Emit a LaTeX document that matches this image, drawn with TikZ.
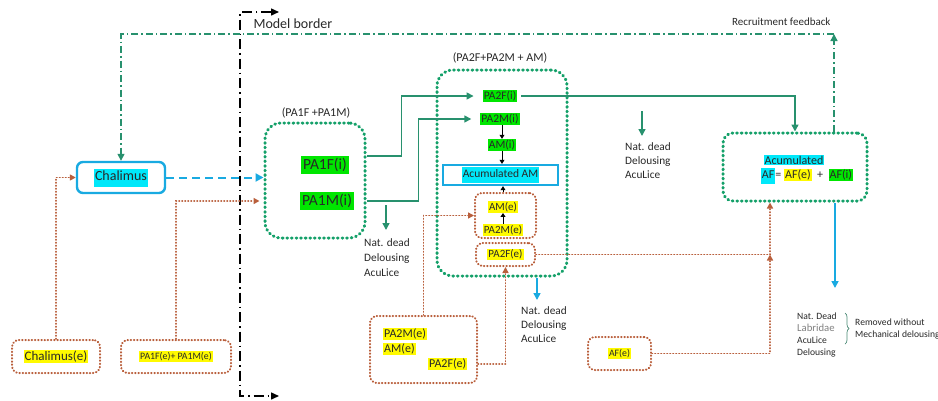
\documentclass[tikz,border=0pt]{standalone}
\usepackage{fontspec}
\setmainfont{Carlito}
\usepackage{xcolor}
\usepackage{tikz}
\usetikzlibrary{arrows.meta, positioning, calc, decorations.pathreplacing}
\definecolor{zonegreen}{RGB}{20,160,105}
\definecolor{flowgreen}{RGB}{40,145,110}
\definecolor{lightblue}{RGB}{25,170,225}
\definecolor{extbrown}{RGB}{185,95,60}
\definecolor{hlgreen}{RGB}{0,230,0}
\definecolor{hlyellow}{RGB}{255,250,0}
\definecolor{hlcyan}{RGB}{0,232,250}
\definecolor{txtdark}{RGB}{40,40,40}
\newcommand{\hlc}[1]{{\setlength{\fboxsep}{1pt}\colorbox{hlcyan}{\strut #1}}}
\newcommand{\hly}[1]{{\setlength{\fboxsep}{1pt}\colorbox{hlyellow}{#1}}}
\newcommand{\hlg}[1]{{\setlength{\fboxsep}{1pt}\colorbox{hlgreen}{#1}}}
\tikzset{
  bigtxt/.style={font=\fontsize{15.5}{18}\selectfont},
  midtxt/.style={font=\fontsize{12}{14}\selectfont},
  smalltxt/.style={font=\fontsize{11.3}{15}\selectfont},
  tinytxt/.style={font=\fontsize{9.8}{12}\selectfont},
  zone/.style={draw=zonegreen, line width=3pt, dash pattern=on 0.8pt off 3.8pt,
    line cap=round, rounded corners=16pt, inner sep=0pt},
  chalbox/.style={draw=lightblue, line width=2.4pt, rounded corners=6pt,
    minimum width=88pt, minimum height=31pt, inner sep=0pt,
    font=\fontsize{14}{16}\selectfont},
  accbox/.style={draw=lightblue, line width=2.4pt, minimum width=115pt,
    minimum height=20pt, inner sep=0pt},
  extbox/.style={draw=extbrown, line width=2pt, dash pattern=on 0.5pt off 2.7pt,
    line cap=round, rounded corners=7pt, inner sep=0pt},
  gtag/.style={fill=hlgreen, inner sep=1pt},
  ytag/.style={fill=hlyellow, inner sep=1pt},
  note/.style={align=left, anchor=west, inner sep=0pt, text=txtdark},
  flow/.style={draw=flowgreen, line width=1.5pt, -{Triangle[width=7pt,length=7pt]}},
  cyanflow/.style={draw=lightblue, line width=1.6pt, -{Triangle[width=7pt,length=7pt]}},
  cyandash/.style={draw=lightblue, line width=2pt, dash pattern=on 8pt off 5pt,
    -{Triangle[width=8pt,length=8pt]}},
  extarrow/.style={draw=extbrown, line width=1.8pt, dash pattern=on 0.5pt off 2.5pt,
    line cap=round, -{Triangle[width=6pt,length=6pt]}},
  smallarrow/.style={line width=0.8pt, -{Triangle[width=5pt,length=4pt]}},
  feedback/.style={draw=flowgreen, line width=1.4pt,
    dash pattern=on 7pt off 3pt on 1.5pt off 3pt, -{Triangle[width=7pt,length=7pt]}},
  border/.style={line width=1.5pt, dash pattern=on 10pt off 4pt on 1.5pt off 4pt,
    {Triangle[width=7pt,length=8pt]}-{Triangle[width=7pt,length=8pt]}}
}
\begin{document}
\begin{tikzpicture}[x=1pt, y=-1pt, font=\fontsize{11.5}{14}\selectfont, text=txtdark]
  \useasboundingbox (0,0) rectangle (938,400);

  % model border
  \coordinate (mbtop) at (240,12);
  \coordinate (mbbot) at (240,396);
  \coordinate (mbtopend) at (279,12);
  \coordinate (mbbotend) at (279,396);
  \draw[border] (mbtopend) -- (mbtop) -- (mbbot) -- (mbbotend);
  \node[anchor=west, font=\fontsize{14}{16}\selectfont] (mbtext) at (250,24) {Model border};

  % zones
  \node[zone, minimum width=100pt, minimum height=115pt] (pa1zone) at (315,180.5) {};
  \node[midtxt] (pa1lbl) at (316,113) {(PA1F +PA1M)};
  \node[zone, minimum width=130pt, minimum height=206pt] (pa2zone) at (502,173) {};
  \node[midtxt] (pa2lbl) at (500,58) {(PA2F+PA2M + AM)};
  \node[zone, minimum width=144pt, minimum height=68pt, rounded corners=10pt] (afzone) at (795,167) {};

  % stages inside the model
  \node[chalbox] (chal) at (121,177.5) {\hlc{Chalimus}};
  \node[gtag, bigtxt, inner sep=2pt] (pa1f) at (325,165) {PA1F(i)};
  \node[gtag, bigtxt, inner sep=2pt] (pa1m) at (327,201) {PA1M(i)};
  \node[gtag] (pa2fi) at (500,96) {PA2F(i)};
  \node[gtag] (pa2mi) at (500,119) {PA2M(i)};
  \node[gtag] (ami) at (502,145) {AM(i)};
  \node[accbox] (accam) at (500.5,175) {\hlc{Acumulated AM}};
  \node[extbox, minimum width=61pt, minimum height=45pt] (ambox) at (505.5,215.5) {};
  \node[ytag, font=\fontsize{11}{13}\selectfont] (ame) at (503,207) {AM(e)};
  \node[ytag, font=\fontsize{11}{13}\selectfont] (pa2me) at (503,230) {PA2M(e)};
  \node[extbox, minimum width=59pt, minimum height=23pt, font=\fontsize{11}{13}\selectfont]
    (pa2fbox) at (505.5,254.5) {\hly{PA2F(e)}};
  \node[midtxt, fill=hlcyan, inner sep=1pt] (afacc) at (794,160) {Acumulated};
  \node[midtxt] (afsum) at (807,176) {\hlc{AF}= \hly{AF(e)} \ + \ \hlg{AF(i)}};

  % external input
  \node[extbox, minimum width=88pt, minimum height=33pt, font=\fontsize{13}{15}\selectfont]
    (chale) at (56,356.5) {\hly{Chalimus(e)}};
  \node[extbox, minimum width=110pt, minimum height=33pt, tinytxt]
    (pa1e) at (176,356.5) {\hly{PA1F(e)+ PA1M(e)}};
  \node[extbox, minimum width=107pt, minimum height=67pt] (pa2e) at (423.5,349.5) {};
  \node[ytag, midtxt, anchor=west] (pa2e1) at (383,334) {PA2M(e)};
  \node[ytag, midtxt, anchor=west] (pa2e2) at (383,349) {AM(e)};
  \node[ytag, midtxt, anchor=west] (pa2e3) at (428,364) {PA2F(e)};
  \node[extbox, minimum width=63pt, minimum height=33pt, tinytxt]
    (afe) at (619.5,353.5) {\hly{AF(e)}};

  % removals
  \node[note, smalltxt] (dead1) at (364,258) {Nat. dead\\Delousing\\AcuLice};
  \node[note, font=\fontsize{11.3}{14}\selectfont] (dead2) at (521,325) {Nat. dead\\Delousing\\AcuLice};
  \node[note, font=\fontsize{11.3}{14}\selectfont] (dead3) at (625,161) {Nat. dead\\Delousing\\AcuLice};
  \node[note, font=\fontsize{9.6}{12}\selectfont] (dead4) at (797,335)
    {Nat. Dead\\{\fontsize{10.7}{12}\selectfont\color{gray}Labridae}\\AcuLice\\Delousing};
  \node[note, font=\fontsize{9.6}{12}\selectfont] (removed) at (855,329) {Removed without\\Mechanical delousing};
  \coordinate (bracetop) at (845,313);
  \coordinate (bracebot) at (845,344);
  \draw[decorate, decoration={brace, amplitude=4pt}, draw=flowgreen!60!gray, line width=0.7pt]
    (bracetop) -- (bracebot);

  % recruitment feedback
  \coordinate (rfb) at (834,34);
  \draw[feedback] (afzone.north -| rfb) -- (rfb);
  \draw[feedback] (rfb) -| (chal.north);
  \node[anchor=east, font=\fontsize{11}{13}\selectfont] (rfbtext) at (834,22) {Recruitment feedback};

  % flows
  \draw[cyandash] (chal.east) -- (pa1zone.west |- chal.east);
  \draw[extarrow] (chale.north) |- (chal.west);
  \draw[extarrow, shorten >=4pt] (pa1e.north) |- (pa1zone.west |- pa1m.west);
  \draw[flow, shorten >=9pt] ([yshift=9pt]pa1f.east -| pa1zone.east) -- ++(35,0) |- (pa2fi.west);
  \draw[flow, shorten >=9pt] (pa1m.east -| pa1zone.east) -- ++(52,0) |- (pa2mi.west);
  \draw[flow, shorten <=4pt] (pa2fi.east) -| (afzone.north);
  \draw[smallarrow] (pa2mi.south -| ami) -- (ami.north);
  \draw[smallarrow] (ami) -- (ami |- accam.north);
  \draw[smallarrow] (ame |- ambox.north) -- (ame |- accam.south);
  \draw[smallarrow] (pa2me) -- (ame);

  \coordinate (cut1a) at (386,205);
  \coordinate (cut1b) at (386,230);
  \draw[flow] (cut1a) -- (cut1b);
  \coordinate (cut3a) at (642,111);
  \coordinate (cut3b) at (642,136);
  \draw[flow] (cut3a) -- (cut3b);
  \coordinate (cut2b) at (537,300);
  \draw[cyanflow] (pa2zone.south -| cut2b) -- (cut2b);
  \coordinate (cut4b) at (835,288);
  \draw[cyanflow] (afzone.south -| cut4b) -- (cut4b);

  \draw[extarrow] (pa2e.north) |- (ambox.west);
  \draw[extarrow] (pa2e.east |- pa2e3) -| (pa2fbox.south);
  \draw[extarrow] (pa2fbox.east) -| ([xshift=-25pt]afzone.south);
  \draw[extarrow] (afe.east) -| ([xshift=-25pt]afzone.south |- pa2fbox.east);
\end{tikzpicture}
\end{document}
